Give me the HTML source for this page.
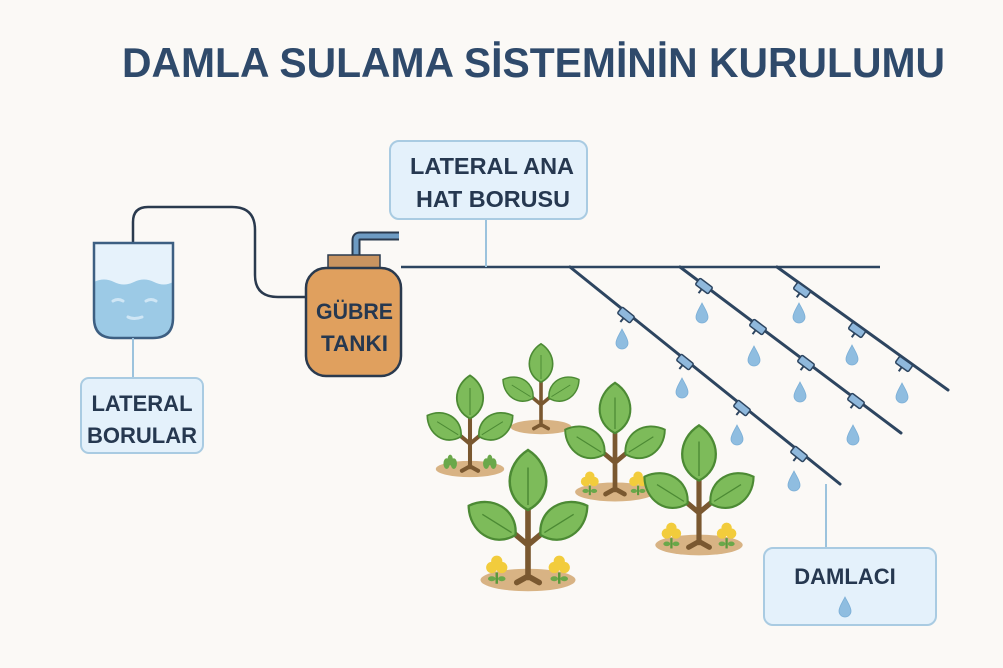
<!DOCTYPE html>
<html><head><meta charset="utf-8"><style>
html,body{margin:0;padding:0;background:#fbf9f6;}
svg{display:block;}
text{font-family:"Liberation Sans","DejaVu Sans",sans-serif;font-weight:bold;fill:#263850;}
</style></head><body>
<svg width="1003" height="668" viewBox="0 0 1003 668" xmlns="http://www.w3.org/2000/svg">
<defs>
<g id="drop"><path d="M0,-11 C3,-5 6,-1 6,3 A6,6 0 0 1 -6,3 C-6,-1 -3,-5 0,-11Z" fill="#8fbde0" stroke="#7aaed6" stroke-width="0.8"/></g>
<g id="em"><rect x="-8" y="-4" width="16" height="8" rx="1.5" fill="#8fb8dc" stroke="#2d4560" stroke-width="1.5"/><line x1="0" y1="4" x2="0" y2="9" stroke="#2d4560" stroke-width="2"/></g>
<g id="leaf"><path d="M0,0 C-20,-10 -19,-36 0,-48 C19,-36 20,-10 0,0Z" fill="#7dbb5a" stroke="#4c8a34" stroke-width="2"/><line x1="0" y1="-4" x2="0" y2="-34" stroke="#4c8a34" stroke-width="1.2"/></g>
<g id="plant">
<ellipse cx="0" cy="0" rx="38" ry="9" fill="#d8b384"/>
<path d="M0,-2 L0,-58 M0,-28 L-12,-38 M0,-28 L12,-38 M0,-3 L-9,2 M0,-3 L9,2" stroke="#7a5830" stroke-width="4.5" fill="none" stroke-linecap="round"/>
<use href="#leaf" transform="translate(0,-56)"/>
<use href="#leaf" transform="translate(-10,-36) rotate(-58) scale(0.92)"/>
<use href="#leaf" transform="translate(10,-36) rotate(58) scale(0.92)"/>
</g>
<g id="flower"><circle cx="-4" cy="-10" r="4.5" fill="#f2cc3c"/><circle cx="4" cy="-10" r="4.5" fill="#f2cc3c"/><circle cx="0" cy="-15" r="4.5" fill="#f2cc3c"/><line x1="0" y1="-6" x2="0" y2="3" stroke="#5a9a3c" stroke-width="2"/><ellipse cx="-4" cy="-1" rx="3" ry="2" fill="#6aa84a"/><ellipse cx="4" cy="-1" rx="3" ry="2" fill="#6aa84a"/></g>
<g id="sprout"><ellipse cx="-4" cy="-6" rx="3.5" ry="6" fill="#6aa84a"/><ellipse cx="4" cy="-6" rx="3.5" ry="6" fill="#6aa84a"/><ellipse cx="0" cy="-10" rx="3" ry="6" fill="#6aa84a"/></g>
</defs>

<text x="122" y="77" font-size="42" textLength="823" lengthAdjust="spacingAndGlyphs" style="fill:#2f4a6b">DAMLA SULAMA SİSTEMİNİN KURULUMU</text>

<path d="M133,243 L133,222 Q133,207 148,207 L232,207 Q255,207 255,230 L255,275 Q255,297 278,297 L306,297" fill="none" stroke="#2a3a4e" stroke-width="2.5"/>
<path d="M94,243 L173,243 L173,318 Q173,338 153,338 L114,338 Q94,338 94,318Z" fill="#e6f2fb"/>
<path d="M94,282 Q104,277 114,282 Q124,287 134,282 Q144,277 154,282 Q164,287 173,282 L173,318 Q173,338 153,338 L114,338 Q94,338 94,318Z" fill="#9ccae6"/>
<path d="M94,243 L173,243 L173,318 Q173,338 153,338 L114,338 Q94,338 94,318Z" fill="none" stroke="#3d5f82" stroke-width="2.5"/>
<path d="M113,301 q5,-3 10,0 M146,301 q5,-3 10,0 M128,317 q6,3 14,0" stroke="#cfe6f5" stroke-width="3" fill="none" stroke-linecap="round"/>
<line x1="133" y1="338" x2="133" y2="378" stroke="#9cc3dd" stroke-width="2"/>
<rect x="81" y="378" width="122" height="75" rx="8" fill="#e4f1fb" stroke="#a9cbe2" stroke-width="2"/>
<text x="142" y="411" font-size="22" text-anchor="middle">LATERAL</text>
<text x="142" y="443" font-size="22" text-anchor="middle">BORULAR</text>

<path d="M356,256 L356,240 Q356,236 360,236 L399,236" fill="none" stroke="#2a3a4e" stroke-width="9" stroke-linejoin="round"/>
<path d="M356,256 L356,240 Q356,236 360,236 L399,236" fill="none" stroke="#6d9bc3" stroke-width="5" stroke-linejoin="round"/>
<rect x="328" y="255" width="52" height="14" fill="#c99460" stroke="#2a3a4e" stroke-width="1.5"/>
<rect x="306" y="268" width="95" height="108" rx="20" fill="#e0a05e" stroke="#2a3a4e" stroke-width="2.5"/>
<text x="316" y="319" font-size="22" textLength="77" lengthAdjust="spacingAndGlyphs">GÜBRE</text>
<text x="321" y="351" font-size="22" textLength="67" lengthAdjust="spacingAndGlyphs">TANKI</text>

<line x1="401" y1="267" x2="880" y2="267" stroke="#2d4560" stroke-width="2.5"/>
<line x1="486" y1="219" x2="486" y2="267" stroke="#9cc3dd" stroke-width="2"/>
<rect x="390" y="141" width="197" height="78" rx="9" fill="#e4f1fb" stroke="#a9cbe2" stroke-width="2"/>
<text x="410" y="174" font-size="23" textLength="164" lengthAdjust="spacingAndGlyphs">LATERAL ANA</text>
<text x="416" y="207" font-size="23" textLength="154" lengthAdjust="spacingAndGlyphs">HAT BORUSU</text>

<g stroke="#2d4560" stroke-width="3" stroke-linecap="round">
<line x1="570" y1="267" x2="840" y2="484"/>
<line x1="680" y1="267" x2="901" y2="433"/>
<line x1="777" y1="267" x2="948" y2="390"/>
</g>
<use href="#em" transform="translate(626,315) rotate(38.8)"/>
<use href="#em" transform="translate(685,362) rotate(38.8)"/>
<use href="#em" transform="translate(742,408) rotate(38.8)"/>
<use href="#em" transform="translate(799,454) rotate(38.8)"/>
<use href="#em" transform="translate(704,286) rotate(36.9)"/>
<use href="#em" transform="translate(758,327) rotate(36.9)"/>
<use href="#em" transform="translate(806,363) rotate(36.9)"/>
<use href="#em" transform="translate(856,401) rotate(36.9)"/>
<use href="#em" transform="translate(802,290) rotate(35.7)"/>
<use href="#em" transform="translate(857,330) rotate(35.7)"/>
<use href="#em" transform="translate(904,364) rotate(35.7)"/>
<use href="#drop" x="622" y="340"/><use href="#drop" x="682" y="389"/><use href="#drop" x="737" y="436"/><use href="#drop" x="794" y="482"/>
<use href="#drop" x="702" y="314"/><use href="#drop" x="754" y="357"/><use href="#drop" x="800" y="393"/><use href="#drop" x="853" y="436"/>
<use href="#drop" x="799" y="314"/><use href="#drop" x="852" y="356"/><use href="#drop" x="902" y="394"/>

<line x1="826" y1="484" x2="826" y2="548" stroke="#9cc3dd" stroke-width="2"/>
<rect x="764" y="548" width="172" height="77" rx="9" fill="#e4f1fb" stroke="#a9cbe2" stroke-width="2"/>
<text x="845" y="584" font-size="22" text-anchor="middle">DAMLACI</text>
<use href="#drop" x="845" y="608"/>

<g transform="translate(541,427) scale(0.8)"><use href="#plant"/></g>
<g transform="translate(470,469) scale(0.9)"><use href="#plant"/><use href="#sprout" x="-22" y="0"/><use href="#sprout" x="22" y="0"/></g>
<g transform="translate(615,492) scale(1.05)"><use href="#plant"/><use href="#flower" x="-24" y="0"/><use href="#flower" x="22" y="0"/></g>
<g transform="translate(699,545) scale(1.15)"><use href="#plant"/><use href="#flower" x="-24" y="0"/><use href="#flower" x="24" y="0"/></g>
<g transform="translate(528,580) scale(1.25)"><use href="#plant"/><use href="#flower" x="-25" y="0"/><use href="#flower" x="25" y="0"/></g>
</svg>
</body></html>
